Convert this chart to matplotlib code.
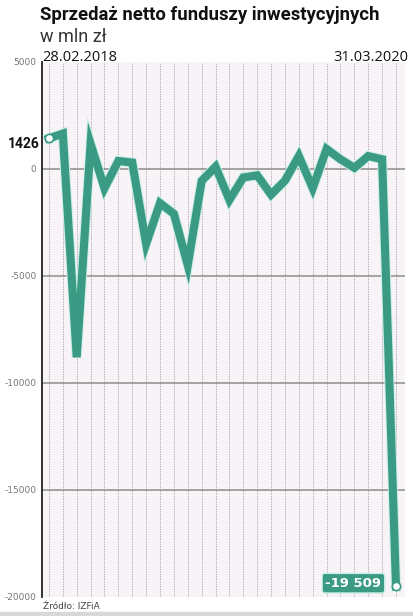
import numpy as np
import matplotlib.pyplot as plt
import matplotlib.patheffects as pe

months = np.arange(26)
# net sales of investment funds, mln PLN, 28.02.2018 - 31.03.2020
values = [1426, 1650, -8800, 1170, -900, 370, 300, -3500, -1600, -2100,
          -4500, -560, 100, -1450, -400, -300, -1200, -550, 600, -900,
          930, 450, 50, 600, 450, -19509]
yticks = [5000, 0, -5000, -10000, -15000, -20000]

teal = "#3a9a84"

fig = plt.figure(figsize=(4.13, 6.16), dpi=100)
ax = fig.add_axes([0.1017, 0.031, 0.879, 0.8685])
ax.set_facecolor("#f8f3f6")

ax.set_xlim(-0.5, 25.65)
ax.set_ylim(-20000, 5000)

# monthly dotted lines
for m in months:
    ax.axvline(m, color="#a39ca2", lw=0.6, ls=(0, (1.5, 1.5)), zorder=1)
for y in yticks[1:-1]:
    ax.axhline(y, color="#8c8c8c", lw=1.1, zorder=2)

ax.plot(months, values, color=teal, lw=5.8, solid_joinstyle="miter", zorder=3,
        path_effects=[pe.Stroke(linewidth=7.2, foreground="#c9eee6"), pe.Normal()])
ax.plot([months[0], months[-1]], [values[0], values[-1]], "o", ms=6,
        mfc="white", mec=teal, mew=1.2, zorder=4)

ax.set_xticks([])
ax.set_yticks(yticks)
ax.set_yticklabels([str(v) for v in yticks], fontsize=6.5, color="#777777")
ax.tick_params(axis="y", length=0, pad=4)
for s in ["top", "right", "bottom"]:
    ax.spines[s].set_visible(False)
ax.spines["left"].set_color("#222222")
ax.spines["left"].set_linewidth(1.3)

ax.text(-0.65, values[0] - 250, "1426", ha="right", va="center",
        fontsize=10, fontweight="bold", family=["Roboto", "DejaVu Sans"],
        color="#111111")
ax.text(23.95, values[-1] + 150, "-19 509", ha="right", va="center",
        fontsize=9.5, fontweight="bold", color="white", zorder=5,
        bbox=dict(boxstyle="round,pad=0.25,rounding_size=0.2", fc=teal, ec="#c9eee6", lw=1))

fig.text(0.097, 0.99, "Sprzedaż netto funduszy inwestycyjnych", ha="left", va="top",
         fontsize=13.3, fontweight="bold", family=["Roboto", "DejaVu Sans"],
         color="#111111")
fig.text(0.097, 0.955, "w mln zł", ha="left", va="top", fontsize=13,
         family=["Roboto", "DejaVu Sans"], color="#333333")
fig.text(0.102, 0.895, "28.02.2018", ha="left", va="bottom", fontsize=10.5,
         family=["Open Sans", "DejaVu Sans"], color="#111111")
fig.text(0.988, 0.895, "31.03.2020", ha="right", va="bottom", fontsize=10.5,
         family=["Open Sans", "DejaVu Sans"], color="#111111")
fig.text(0.105, 0.016, "Źródło: IZFiA", ha="left", va="center", fontsize=6.5,
         color="#444444")
fig.patches.append(plt.Rectangle((0, 0), 1, 0.006, transform=fig.transFigure,
                                 color="#d8d8d8", zorder=0))

fig.savefig("out.png", dpi=100)
